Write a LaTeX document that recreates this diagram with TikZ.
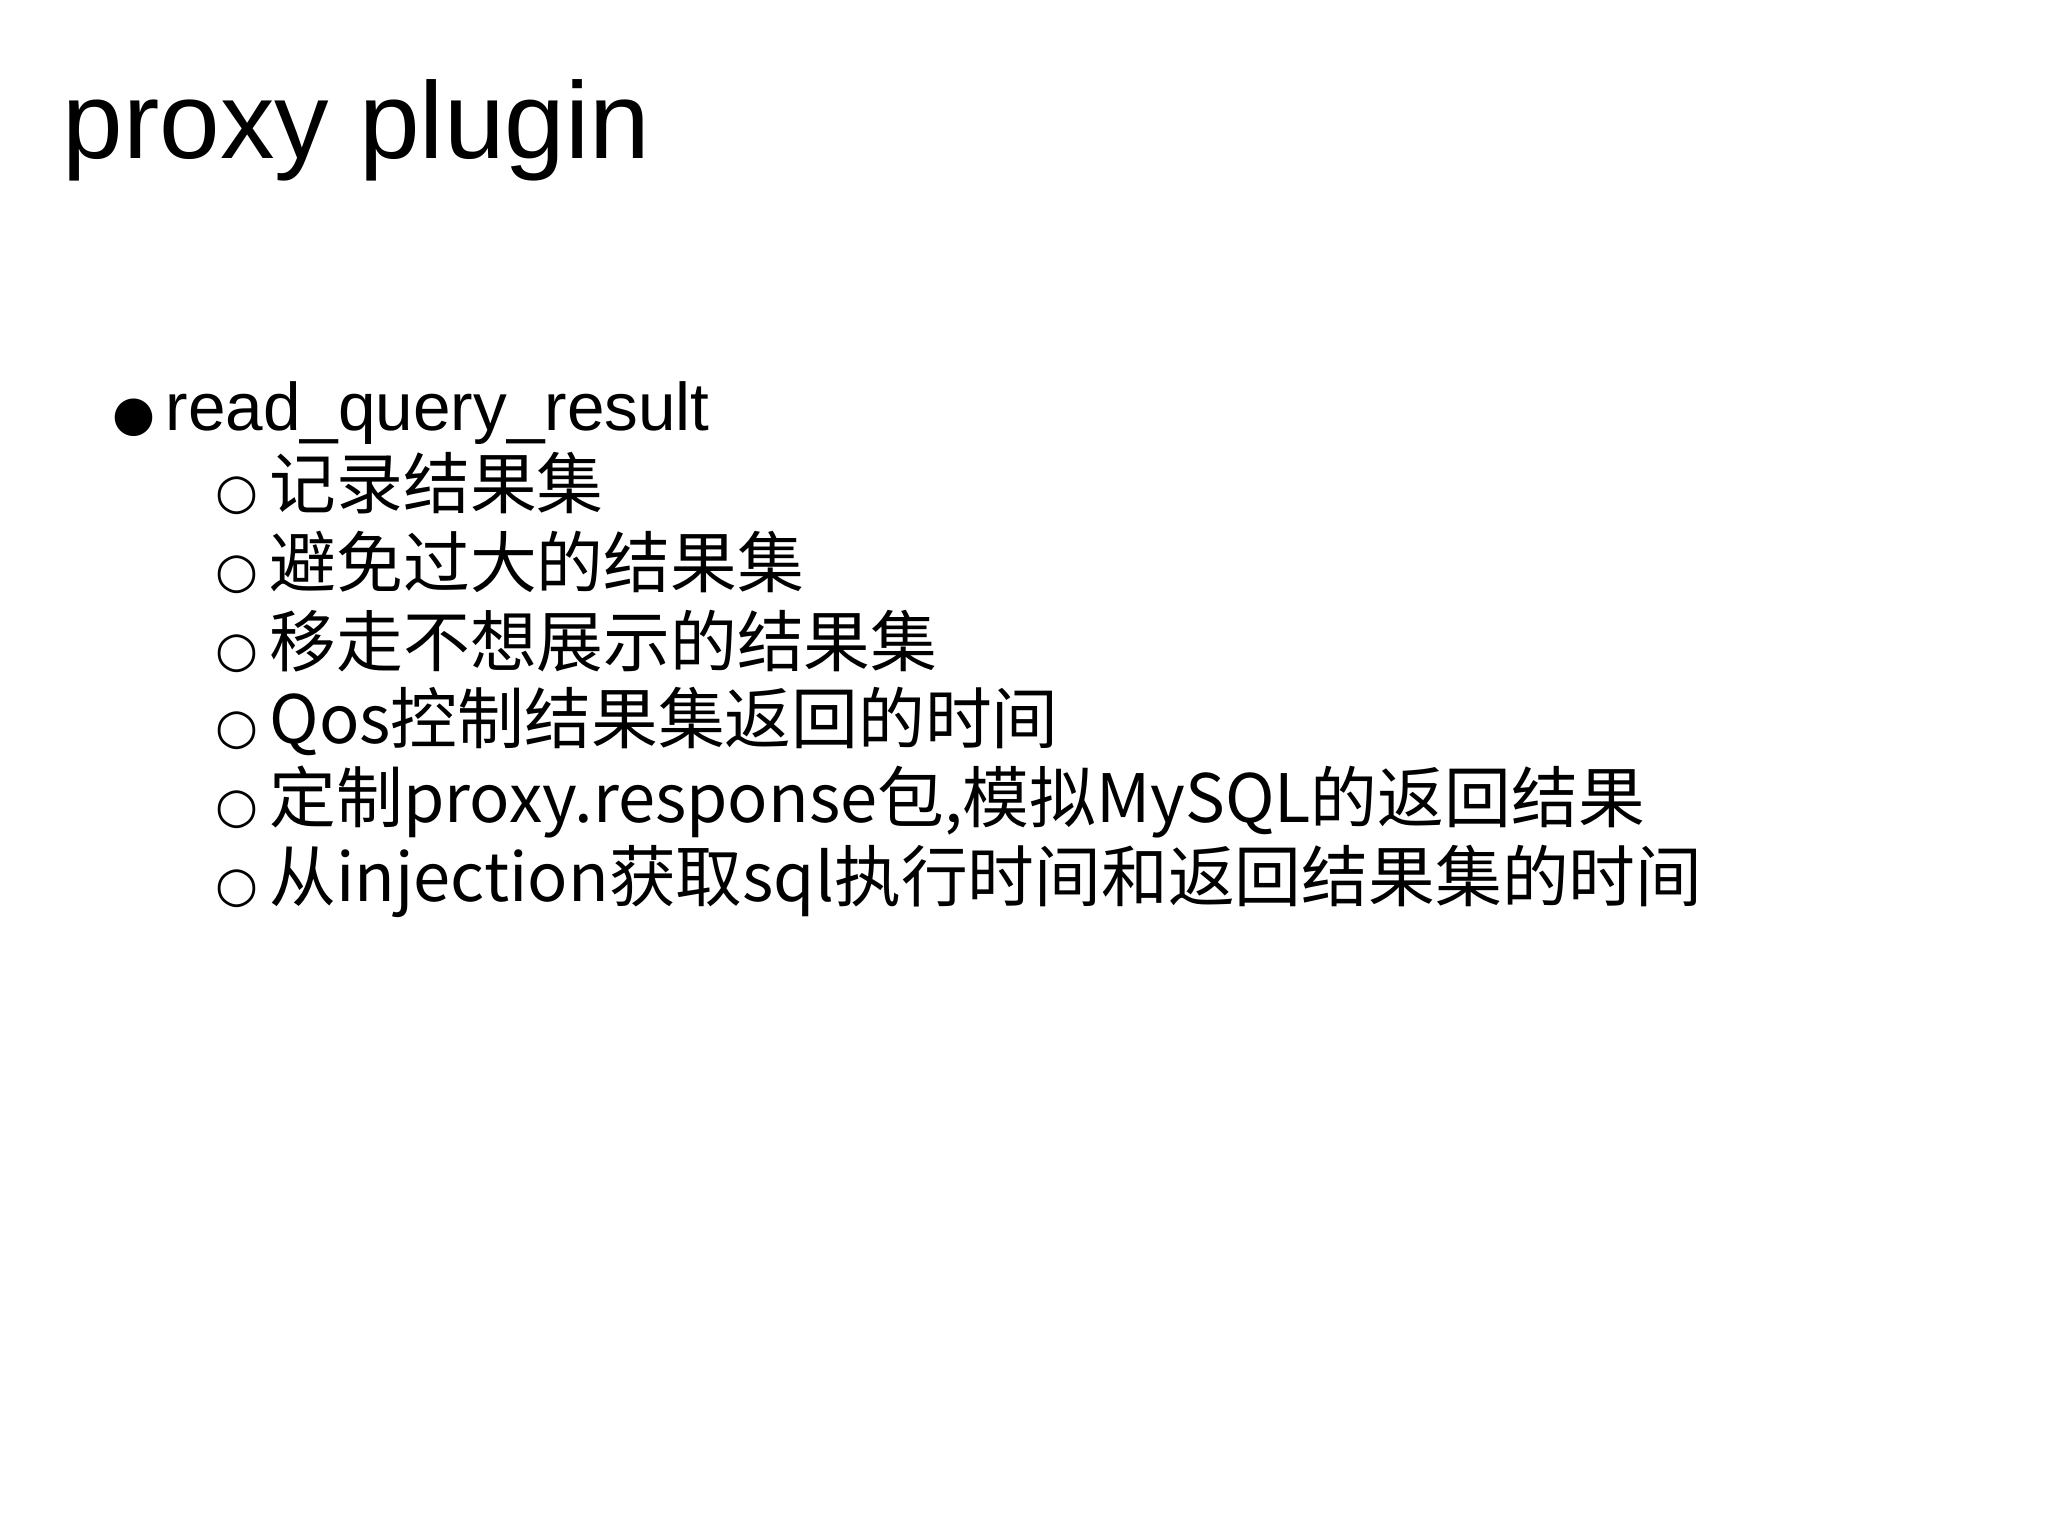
\documentclass[tikz,border=0pt]{standalone}
\usepackage{fontspec}
\setmainfont{Liberation Sans}
\newfontfamily\cjk{Noto Sans CJK SC}
\newfontfamily\djsym{DejaVu Sans}
\begin{document}
\begin{tikzpicture}[x=1cm,y=-1cm,
  sub/.style={anchor=base west,inner sep=0pt,font=\cjk\fontsize{19}{19}\selectfont},
  mark1/.style={anchor=base west,inner sep=0pt,font=\djsym\fontsize{14}{14}\selectfont}]
\useasboundingbox[fill=white] (0,0) rectangle (20.48,15.36);
\node[anchor=base west,inner sep=0pt,font=\fontsize{31}{31}\selectfont] (title) at (0.62,1.59) {proxy plugin};
\node[mark1] (b0) at (1.12,4.31) {●};
\node[anchor=base west,inner sep=0pt,font=\fontsize{19.2}{19.2}\selectfont] (t0) at (1.65,4.31) {read\_query\_result};
\foreach \y/\t [count=\i] in {5.09/记录结果集,5.88/避免过大的结果集,6.66/移走不想展示的结果集,7.44/Qos控制结果集返回的时间,8.23/定制proxy.response包{,}模拟MySQL的返回结果,9.01/从injection获取sql执行时间和返回结果集的时间}{
  \node[mark1] (c\i) at (2.15,\y) {○};
  \node[sub] (s\i) at (2.69,\y) {\t};
}
\end{tikzpicture}
\end{document}
